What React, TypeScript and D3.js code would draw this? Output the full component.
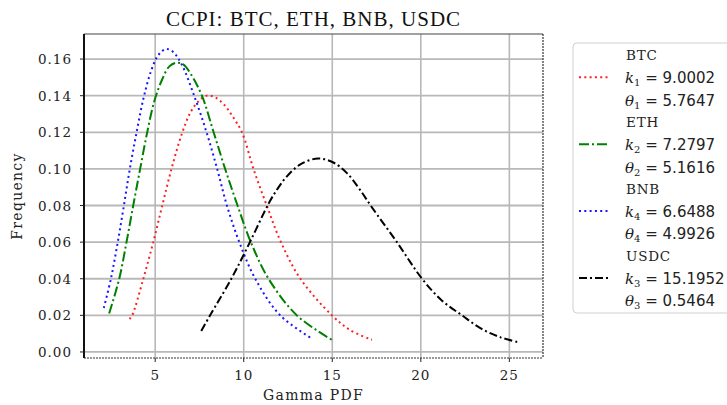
import * as d3 from 'd3'

// x / frequency pairs
const btcX = [3.55, 3.7, 4.33, 4.89, 5.4, 5.92, 6.5, 7.0, 7.45, 7.9, 8.4, 8.9, 9.35, 9.9, 10.55, 11.3, 12.1, 13.2, 14.98, 16.0, 17.24]
const btcY = [0.018, 0.02, 0.04, 0.06, 0.08, 0.1, 0.119, 0.131, 0.137, 0.14, 0.139, 0.135, 0.129, 0.12, 0.1, 0.08, 0.06, 0.04, 0.02, 0.012, 0.0066]

const ethX = [2.4, 2.97, 3.38, 3.76, 4.15, 4.55, 4.95, 5.4, 5.8, 6.2, 6.6, 7.0, 7.64, 8.3, 8.95, 9.65, 10.4, 11.4, 13.0, 14.98]
const ethY = [0.021, 0.04, 0.06, 0.08, 0.1, 0.12, 0.137, 0.149, 0.156, 0.158, 0.157, 0.152, 0.14, 0.12, 0.1, 0.08, 0.06, 0.04, 0.02, 0.0066]

const bnbX = [2.1, 2.5, 2.85, 3.2, 3.55, 3.95, 4.35, 4.75, 5.1, 5.4, 5.65, 6.0, 6.5, 7.2, 7.9, 8.5, 9.05, 9.75, 10.65, 12.06, 13.9]
const bnbY = [0.024, 0.04, 0.058, 0.078, 0.099, 0.12, 0.139, 0.153, 0.161, 0.1645, 0.1655, 0.164, 0.157, 0.14, 0.12, 0.1, 0.08, 0.06, 0.04, 0.02, 0.007]

const usdcX = [7.6, 8.1, 9.3, 10.35, 11.4, 11.9, 12.4, 13.2, 14.2, 15.06, 15.83, 16.5, 17.24, 18.65, 20.07, 21.2, 22.33, 23.36, 24.5, 25.6]
const usdcY = [0.0115, 0.02, 0.04, 0.06, 0.081, 0.089, 0.0955, 0.1025, 0.1057, 0.1035, 0.0977, 0.0895, 0.079, 0.06, 0.04, 0.028, 0.02, 0.013, 0.008, 0.0051]

const xTicks = [5, 10, 15, 20, 25]
const yTicks = [0, 0.02, 0.04, 0.06, 0.08, 0.1, 0.12, 0.14, 0.16]

const series = [
  { name: 'BTC', xs: btcX, ys: btcY, color: '#ff2020', dash: '2,3.3', k: '1', kVal: '9.0002', t: '1', tVal: '5.7647' },
  { name: 'ETH', xs: ethX, ys: ethY, color: '#008000', dash: '10,3,2,3', k: '2', kVal: '7.2797', t: '2', tVal: '5.1616' },
  { name: 'BNB', xs: bnbX, ys: bnbY, color: '#1515ff', dash: '2,3.3', k: '4', kVal: '6.6488', t: '4', tVal: '4.9926' },
  { name: 'USDC', xs: usdcX, ys: usdcY, color: '#000000', dash: '8,3,2,3', k: '3', kVal: '15.1952', t: '3', tVal: '0.5464' },
]

const W = 727
const H = 405
const left = 84
const right = 543
const top = 34
const bottom = 358

export default function App() {
  const x = d3.scaleLinear().domain([0.98, 26.9]).range([left, right])
  const y = d3.scaleLinear().domain([-0.0033, 0.1737]).range([bottom, top])
  const fmt = d3.format('.2f')

  const line = d3
    .line<[number, number]>()
    .x((d) => x(d[0]))
    .y((d) => y(d[1]))
    .curve(d3.curveCatmullRom.alpha(0.5))

  const serif = 'DejaVu Serif, serif'
  const lineH = 22.3

  return (
    <svg width={W} height={H} style={{ position: 'absolute', left: 0, top: 0, background: '#fff' }}>
      <defs>
        <clipPath id="clip">
          <rect x={left} y={top} width={right - left} height={bottom - top} />
        </clipPath>
      </defs>
      {/* grid */}
      {xTicks.map((t) => (
        <line key={'gx' + t} x1={x(t)} x2={x(t)} y1={top} y2={bottom} stroke="#b8b8b8" strokeWidth={1.6} />
      ))}
      {yTicks.map((t) => (
        <line key={'gy' + t} x1={left} x2={right} y1={y(t)} y2={y(t)} stroke="#b8b8b8" strokeWidth={1.8} />
      ))}

      {/* curves */}
      <g clipPath="url(#clip)">
        {series.map((s) => (
          <path
            key={s.name}
            d={line(s.xs.map((v, i) => [v, s.ys[i]] as [number, number])) || ''}
            fill="none"
            stroke={s.color}
            strokeWidth={2}
            strokeDasharray={s.dash}
          />
        ))}
      </g>

      {/* spines */}
      <line x1={left} x2={right} y1={top} y2={top} stroke="#444" strokeWidth={1.2} />
      <line x1={right} x2={right} y1={top} y2={bottom} stroke="#333" strokeWidth={1.2} strokeDasharray="2,1" />
      <line x1={left} x2={right} y1={bottom} y2={bottom} stroke="#333" strokeWidth={1} strokeDasharray="2,1" />
      <line x1={left} x2={left} y1={top} y2={bottom} stroke="#111" strokeWidth={2} />

      {/* y ticks */}
      {yTicks.map((t) => (
        <g key={'yt' + t}>
          <line x1={left - 4} x2={left} y1={y(t)} y2={y(t)} stroke="#222" strokeWidth={1} />
          <text x={left - 12} y={y(t) + 5} textAnchor="end" fontFamily={serif} fontSize={13.5} letterSpacing={1} fill="#222">
            {fmt(t)}
          </text>
        </g>
      ))}
      {/* x ticks */}
      {xTicks.map((t) => (
        <g key={'xt' + t}>
          <line x1={x(t)} x2={x(t)} y1={bottom} y2={bottom + 4} stroke="#222" strokeWidth={1} />
          <text x={x(t)} y={bottom + 22} textAnchor="middle" fontFamily={serif} fontSize={13.5} letterSpacing={1} fill="#222">
            {t}
          </text>
        </g>
      ))}

      <text x={(left + right) / 2} y={26} textAnchor="middle" fontFamily="Liberation Serif, serif" fontSize={21} letterSpacing={1} fill="#111">
        CCPI: BTC, ETH, BNB, USDC
      </text>
      <text x={(left + right) / 2} y={400} textAnchor="middle" fontFamily={serif} fontSize={14} letterSpacing={1.3} fill="#222">
        Gamma PDF
      </text>
      <text
        transform={`translate(22,${(top + bottom) / 2}) rotate(-90)`}
        textAnchor="middle"
        fontFamily={serif}
        fontSize={14}
        letterSpacing={1.3}
        fill="#222"
      >
        Frequency
      </text>

      {/* legend */}
      <rect x={573} y={43} width={170} height={270} rx={4} fill="#fff" stroke="#d0d0d0" strokeWidth={1} />
      {series.map((s, i) => {
        const y0 = 55 + i * 3 * lineH
        return (
          <g key={'lg' + s.name}>
            <line x1={579} x2={609} y1={y0 + lineH} y2={y0 + lineH} stroke={s.color} strokeWidth={2} strokeDasharray={s.dash} />
            <text x={626} y={y0 + 5} fontFamily={serif} fontSize={13.5} letterSpacing={0.8} fill="#222">
              {s.name}
            </text>
            <text x={625} y={y0 + lineH + 6} fontSize={15} fill="#222">
              <tspan fontFamily={serif} fontStyle="italic">k</tspan>
              <tspan fontFamily={serif} fontSize={10} dy={3}>{s.k}</tspan>
              <tspan fontFamily="DejaVu Sans, sans-serif" dy={-3}>{' = ' + s.kVal}</tspan>
            </text>
            <text x={625} y={y0 + 2 * lineH + 6} fontSize={15} fill="#222">
              <tspan fontFamily={serif} fontStyle="italic">θ</tspan>
              <tspan fontFamily={serif} fontSize={10} dy={3}>{s.t}</tspan>
              <tspan fontFamily="DejaVu Sans, sans-serif" dy={-3}>{' = ' + s.tVal}</tspan>
            </text>
          </g>
        )
      })}
    </svg>
  )
}
